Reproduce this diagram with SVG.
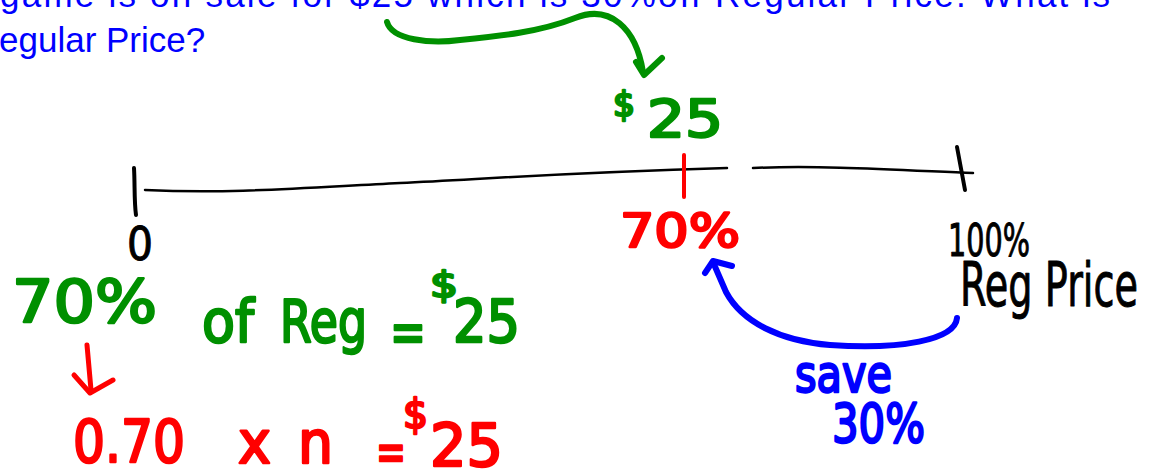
<svg xmlns="http://www.w3.org/2000/svg" width="1155" height="471" viewBox="0 0 1155 471">
<style>
.q{font-family:"Liberation Sans",Arial,sans-serif;font-size:35px;fill:#0000ff}
.h{font-family:"DejaVu Sans","Liberation Sans",sans-serif;stroke-linejoin:round;stroke-linecap:round}
.g{fill:#009000;stroke:#009000;stroke-width:2.5}
.r{fill:#ff0000;stroke:#ff0000;stroke-width:2.5}
.b{fill:#0000ff;stroke:#0000ff;stroke-width:2.5}
.k{fill:#000;stroke:#000;stroke-width:1}
.ln{fill:none;stroke-linecap:round;stroke-linejoin:round}
</style>
<rect width="1155" height="471" fill="#fff"/>
<g id="question">
<text class="q" x="0" y="7" textLength="1110" lengthAdjust="spacing">game is on sale for $25 which is 30%off Regular Price. What is</text>
<text class="q" x="-1" y="52">egular Price?</text>
</g>
<g id="number-line">
<path class="ln" stroke="#000" stroke-width="2.5" d="M145,190 C230,194 300,188 400,183 C500,178 560,173 727,168"/>
<path class="ln" stroke="#000" stroke-width="2.5" d="M753,168 C820,165 900,170 973,173"/>
<path class="ln" stroke="#000" stroke-width="4" d="M134,168 C135,185 134,200 136,215"/>
<path class="ln" stroke="#ff0000" stroke-width="4" d="M684,155 L684,197"/>
<path class="ln" stroke="#000" stroke-width="4" d="M957,147 L965,190"/>
</g>
<g id="label-zero"><text class="h k" x="127" y="260" font-size="46" textLength="26" lengthAdjust="spacingAndGlyphs">0</text></g>
<g id="label-70"><text class="h r" x="620" y="247" font-size="46" textLength="120" lengthAdjust="spacingAndGlyphs">70%</text></g>
<g id="label-100"><text class="h k" x="948" y="256" font-size="44" textLength="82" lengthAdjust="spacingAndGlyphs">100%</text></g>
<g id="label-reg-price"><text class="h k" x="960" y="306" font-size="60" textLength="178" lengthAdjust="spacingAndGlyphs">Reg Price</text></g>
<g id="label-25-top">
<text class="h g" x="613" y="116" font-size="34" textLength="22" lengthAdjust="spacingAndGlyphs">$</text>
<text class="h g" x="647" y="137" font-size="52" textLength="76" lengthAdjust="spacingAndGlyphs">25</text>
</g>
<g id="label-save"><text class="h b" x="795" y="392" font-size="52" textLength="97" lengthAdjust="spacingAndGlyphs">save</text>
<text class="h b" x="832" y="442" font-size="54" textLength="93" lengthAdjust="spacingAndGlyphs">30%</text></g>
<g id="equation-1">
<text class="h g" font-size="58">
<tspan x="12" y="322" textLength="145" lengthAdjust="spacingAndGlyphs">70%</tspan>
<tspan x="202" y="342" textLength="52" lengthAdjust="spacingAndGlyphs">of</tspan>
<tspan x="280" y="342" textLength="87" lengthAdjust="spacingAndGlyphs">Reg</tspan>
<tspan x="390" y="352" textLength="36" lengthAdjust="spacingAndGlyphs">=</tspan>
<tspan x="453" y="342" textLength="67" lengthAdjust="spacingAndGlyphs">25</tspan>
</text>
<text class="h g" x="430" y="297" font-size="36" textLength="28" lengthAdjust="spacingAndGlyphs">$</text>
</g>
<g id="equation-2">
<text class="h r" font-size="58">
<tspan x="73" y="462" textLength="112" lengthAdjust="spacingAndGlyphs">0.70</tspan>
<tspan x="238" y="463" textLength="33" lengthAdjust="spacingAndGlyphs">x</tspan>
<tspan x="298" y="463" textLength="35" lengthAdjust="spacingAndGlyphs">n</tspan>
<tspan x="430" y="466" textLength="73" lengthAdjust="spacingAndGlyphs">25</tspan>
</text>
<text class="h r" x="376" y="471" font-size="56" textLength="30" lengthAdjust="spacingAndGlyphs">=</text>
<text class="h r" x="403" y="428" font-size="40" textLength="25" lengthAdjust="spacingAndGlyphs">$</text>
</g>
<g id="connectors">
<path class="ln" stroke="#009000" stroke-width="6" d="M387,22 C392,40 430,44 460,40 C500,36 540,32 575,18 C610,4 636,28 643,72"/>
<path class="ln" stroke="#009000" stroke-width="6" d="M636,62 L644,75 L662,58"/>
<path class="ln" stroke="#0000ff" stroke-width="6" d="M957,318 C955,340 900,350 830,345 C780,341 742,322 726,292 L713,262"/>
<path class="ln" stroke="#0000ff" stroke-width="6" d="M705,273 L713,261 L732,266"/>
<path class="ln" stroke="#ff0000" stroke-width="5" d="M87,345 L91,390"/>
<path class="ln" stroke="#ff0000" stroke-width="5" d="M74,375 L90,393 L113,380"/>
</g>
</svg>
